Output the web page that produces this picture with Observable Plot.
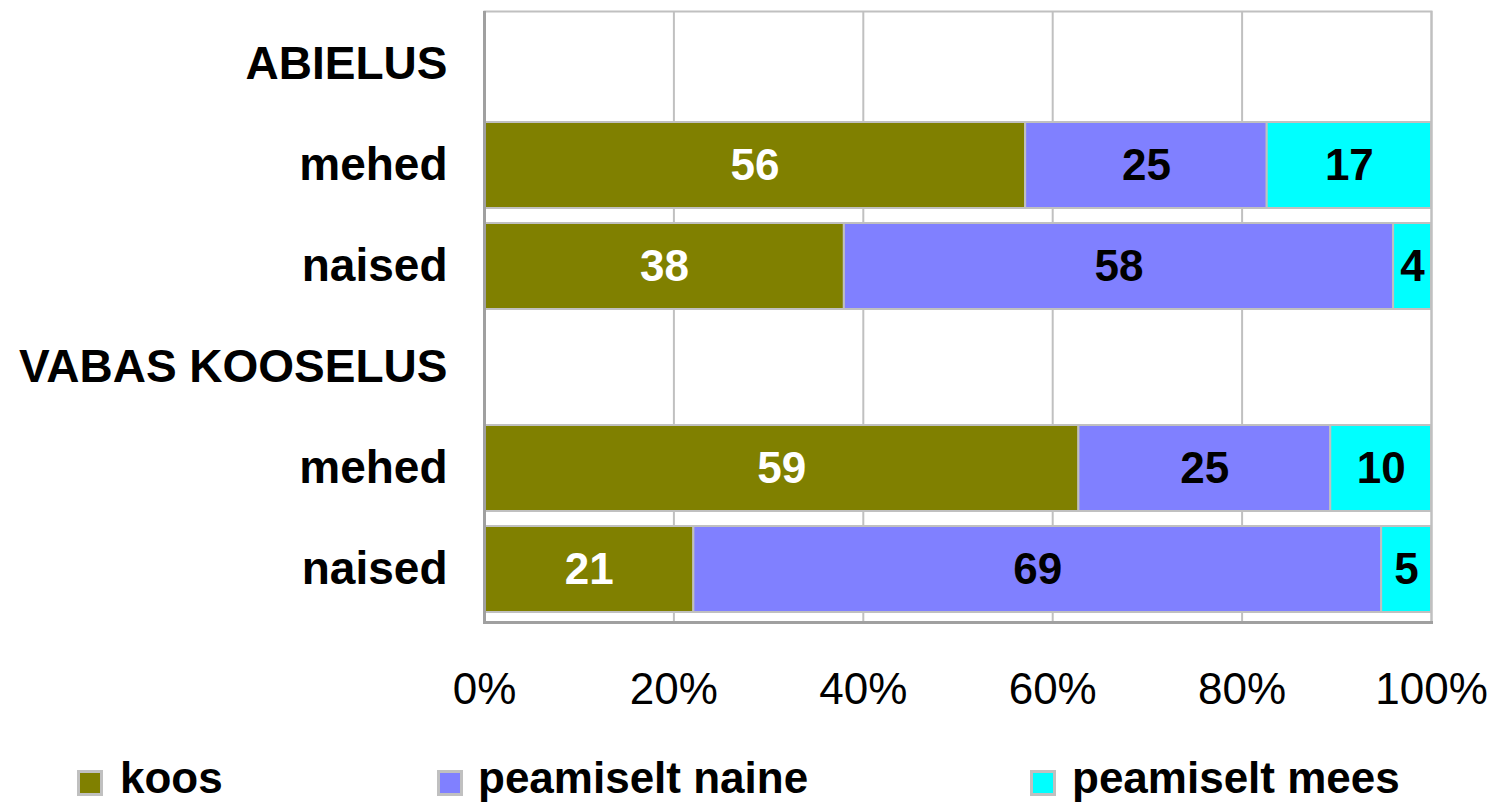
<!DOCTYPE html>
<html>
<head>
<meta charset="utf-8">
<script src="https://cdn.jsdelivr.net/npm/d3@7"></script>
<script src="https://cdn.jsdelivr.net/npm/@observablehq/plot@0.6"></script>
<style>
  body { margin: 0; background: #fff; font-family: "Liberation Sans", Arial, sans-serif; }
  #chart svg { display: block; background: #fff; }
  #legend { position: relative; width: 1492px; height: 59px; }
  #legend .sw { position: absolute; top: 25px; width: 26px; height: 26px; box-sizing: border-box; border: 3px solid #c0c0c0; }
  #legend .lb { position: absolute; top: 11px; font-size: 44px; line-height: 44px; font-weight: bold; color: #000; white-space: nowrap; }
</style>
</head>
<body>
<div id="chart"></div>
<div id="legend"></div>
<script>
// ---- data ----
const rowKeys   = ["ABIELUS", "A mehed", "A naised", "VABAS KOOSELUS", "V mehed", "V naised"];
const rowLabels = ["ABIELUS", "mehed", "naised", "VABAS KOOSELUS", "mehed", "naised"];
const categories = ["koos", "peamiselt naine", "peamiselt mees"];
const colors = ["#808000", "#8080ff", "#00ffff"];
const koos   = [null, 56, 38, null, 59, 21];
const naine  = [null, 25, 58, null, 25, 69];
const mees   = [null, 17, 4, null, 10, 5];
const xTicks = [0, 0.2, 0.4, 0.6, 0.8, 1];

const series = [koos, naine, mees];
const data = [];
rowKeys.forEach((r, i) => {
  categories.forEach((c, j) => {
    const v = series[j][i];
    if (v != null) data.push({row: r, cat: c, value: v});
  });
});
const labelOf = Object.fromEntries(rowKeys.map((k, i) => [k, rowLabels[i]]));

const stackOpts = {x: "value", y: "row", z: "cat", offset: "normalize"};

const chart = Plot.plot({
  width: 1492,
  height: 745,
  marginLeft: 484,
  marginRight: 61,
  marginTop: 11,
  marginBottom: 123,
  style: {fontFamily: "'Liberation Sans', Arial, sans-serif", color: "#000", background: "#fff"},
  x: {domain: [0, 1], label: null},
  y: {domain: rowKeys, paddingInner: 0.15, paddingOuter: 0.075, label: null},
  color: {domain: categories, range: colors},
  marks: [
    Plot.gridX(xTicks, {stroke: "#c0c0c0", strokeWidth: 2, strokeOpacity: 1}),
    Plot.frame({stroke: "#c0c0c0", strokeWidth: 2}),
    Plot.barX(data, Plot.stackX({...stackOpts, fill: "cat", stroke: "#c0c0c0", strokeWidth: 2})),
    Plot.text(data, Plot.stackX({...stackOpts,
      text: d => d.cat === "koos" ? String(d.value) : null,
      fill: "white", fontSize: 44, fontWeight: "bold"})),
    Plot.text(data, Plot.stackX({...stackOpts,
      text: d => d.cat !== "koos" ? String(d.value) : null,
      fill: "black", fontSize: 44, fontWeight: "bold"})),
    Plot.ruleX([0], {stroke: "#a0a0a0", strokeWidth: 3}),
    Plot.frame({anchor: "bottom", stroke: "#a0a0a0", strokeWidth: 3}),
    Plot.axisX(xTicks, {tickFormat: d3.format(".0%"), tickSize: 0, tickPadding: 50, fontSize: 44, fill: "#000", label: null}),
    Plot.axisY({tickSize: 0, tickPadding: 37, tickFormat: d => labelOf[d], fontSize: 46, fontWeight: "bold", fill: "#000", label: null})
  ]
});
document.getElementById("chart").appendChild(chart);

// ---- legend ----
const legendPos = [[77, 120], [437, 478], [1030, 1072]];
const legend = document.getElementById("legend");
categories.forEach((c, i) => {
  const sw = document.createElement("div");
  sw.className = "sw";
  sw.style.left = legendPos[i][0] + "px";
  sw.style.background = colors[i];
  legend.appendChild(sw);
  const lb = document.createElement("div");
  lb.className = "lb";
  lb.style.left = legendPos[i][1] + "px";
  lb.textContent = c;
  legend.appendChild(lb);
});
</script>
</body>
</html>
